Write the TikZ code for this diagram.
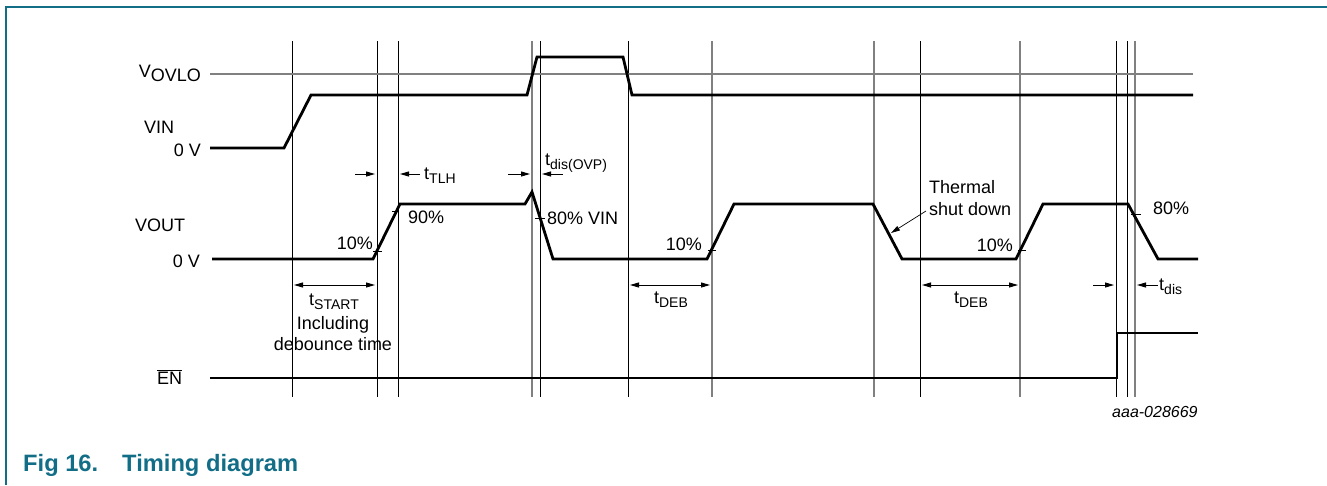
\documentclass[tikz,border=0pt]{standalone}
\usepackage{fontspec}
\setmainfont{Liberation Sans}
\usetikzlibrary{arrows.meta}
\definecolor{nxpteal}{RGB}{18,110,135}
\definecolor{vgray}{RGB}{128,128,128}
\newcommand{\tsb}[2]{#1\raisebox{-4pt}{\fontsize{14}{14}\selectfont #2}}
\begin{document}
\begin{tikzpicture}[x=1pt,y=-1pt,
  lbl/.style={inner sep=0pt, font=\fontsize{18}{21}\selectfont},
  sig/.style={line width=2.8pt, line join=miter},
  vline/.style={line width=1pt},
  vlineg/.style={line width=1.3pt, draw=vgray},
  tarrow/.style={line width=0.9pt, -{Triangle[length=9pt,width=5pt]}},
  darrow/.style={line width=0.9pt, {Triangle[length=9pt,width=5pt]}-{Triangle[length=9pt,width=5pt]}},
  tickmark/.style={line width=0.8pt}]
\useasboundingbox (0,0) rectangle (1327,485);
% frame
\draw[nxpteal, line width=1.5pt] (6,485) -- (6,7) -- (1327,7);
% vertical time markers
\foreach \x in {292,377,398,540,628,920,1116,1127}
  \draw[vline] (\x,41) -- (\x,397);
\foreach \x in {532,712,874,1020,1135}
  \draw[vlineg] (\x,41) -- (\x,397);
% VOVLO level
\draw[vgray, line width=2pt] (210,74) -- (1193,74);
% VIN
\draw[sig] (210,148) -- (284,148) -- (311,95) -- (527,95) -- (537,57) -- (623,57) -- (632,95) -- (1193,95);
% VOUT
\draw[sig] (212,259) -- (373,259) -- (400,204) -- (525,204) -- (532,192) -- (553,259) -- (707,259) -- (734,204) -- (873,204) -- (902,259) -- (1016,259) -- (1043,204) -- (1128,204) -- (1158,259) -- (1198,259);
% EN
\draw[sig] (210,378) -- (1117,378) -- (1117,333) -- (1198,333);
% threshold ticks
\draw[tickmark] (373,251) -- (382,251);
\draw[tickmark] (392,211) -- (399,211);
\draw[tickmark] (535,218) -- (545,218);
\draw[tickmark] (708,250) -- (716,250);
\draw[tickmark] (1018,250) -- (1026,250);
\draw[tickmark] (1131,214) -- (1141,214);
% signal labels
\node[lbl, anchor=base east] (vovlo) at (201,77) {V\raisebox{-4pt}{OVLO}};
\node[lbl, anchor=base west] (vin) at (144,133) {VIN};
\node[lbl, anchor=base east] (vin0) at (201,156) {0 V};
\node[lbl, anchor=base west] (vout) at (135,231) {VOUT};
\node[lbl, anchor=base east] (vout0) at (200,267) {0 V};
\node[lbl, anchor=base west] (en) at (157,384) {$\overline{\mbox{EN}}$};
% level labels
\node[lbl, anchor=base east] (p10a) at (373,249) {10\%};
\node[lbl, anchor=base west] (p90) at (408,223) {90\%};
\node[lbl, anchor=base west] (p80vin) at (547,224) {80\% VIN};
\node[lbl, anchor=base east] (p10b) at (702,250) {10\%};
\node[lbl, anchor=base east] (p10c) at (1013,251) {10\%};
\node[lbl, anchor=base west] (p80) at (1153,214) {80\%};
\node[lbl, anchor=base west] (therm1) at (929,193) {Thermal};
\node[lbl, anchor=base west] (therm2) at (929,215) {shut down};
% timing labels
\node[lbl, anchor=base west] (ttlh) at (424,179) {\tsb{t}{TLH}};
\node[lbl, anchor=base west] (tdisovp) at (545,165) {\tsb{t}{dis(OVP)}};
\node[lbl, anchor=base] (tstart) at (334,305) {\tsb{t}{START}};
\node[lbl, anchor=base] (incl) at (333,329) {Including};
\node[lbl, anchor=base] (deb) at (333,350) {debounce time};
\node[lbl, anchor=base] (tdeb1) at (671,303) {\tsb{t}{DEB}};
\node[lbl, anchor=base] (tdeb2) at (971,303) {\tsb{t}{DEB}};
\node[lbl, anchor=base west] (tdis) at (1159,290) {\tsb{t}{dis}};
% arrow coordinates
\coordinate (a1s) at (355,174); \coordinate (a1e) at (375,174);
\coordinate (a2s) at (420,174); \coordinate (a2e) at (400,174);
\coordinate (a3s) at (508,174); \coordinate (a3e) at (530,174);
\coordinate (a4s) at (563,174); \coordinate (a4e) at (542,174);
\coordinate (s1) at (294,285); \coordinate (s2) at (375,285);
\coordinate (d1) at (630,285); \coordinate (d2) at (710,285);
\coordinate (e1) at (922,285); \coordinate (e2) at (1018,285);
\coordinate (f1s) at (1093,285); \coordinate (f1e) at (1114,285);
\coordinate (f2s) at (1158,285); \coordinate (f2e) at (1137,285);
\coordinate (th1) at (926,211); \coordinate (th2) at (891,233);
\draw[tarrow] (a1s) -- (a1e);
\draw[tarrow] (a2s) -- (a2e);
\draw[tarrow] (a3s) -- (a3e);
\draw[tarrow] (a4s) -- (a4e);
\draw[darrow] (s1) -- (s2);
\draw[darrow] (d1) -- (d2);
\draw[darrow] (e1) -- (e2);
\draw[tarrow] (f1s) -- (f1e);
\draw[tarrow] (f2s) -- (f2e);
\draw[tarrow, line width=0.7pt] (th1) -- (th2);
% id and caption
\node[inner sep=0pt, anchor=base west, font=\fontsize{16}{18}\selectfont\itshape] (id) at (1112,417) {aaa-028669};
\node[inner sep=0pt, anchor=base west, text=nxpteal, font=\fontsize{23.7}{27}\selectfont\bfseries] (cap1) at (23,471) {Fig 16.};
\node[inner sep=0pt, anchor=base west, text=nxpteal, font=\fontsize{23.7}{27}\selectfont\bfseries] (cap2) at (122,471) {Timing diagram};
\end{tikzpicture}
\end{document}
